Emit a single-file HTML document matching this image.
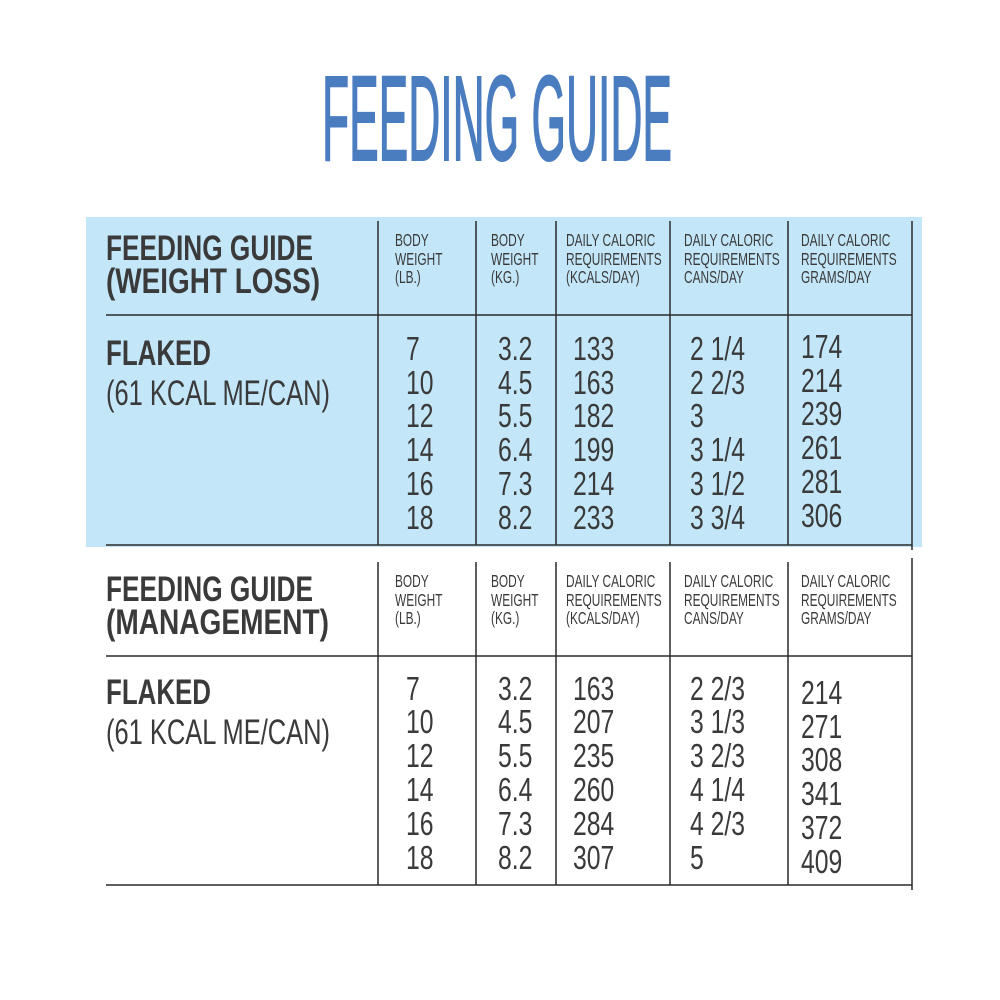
<!DOCTYPE html>
<html><head><meta charset="utf-8"><style>
html,body{margin:0;padding:0;background:#fff}
svg{display:block}
text{font-family:"Liberation Sans",sans-serif;fill:#3a3a3a}
.n{font-size:33px}
.h{font-size:18px}
.b{font-size:35px;font-weight:bold}
</style></head><body>
<svg width="1000" height="1000" viewBox="0 0 1000 1000" xmlns="http://www.w3.org/2000/svg">
<rect width="1000" height="1000" fill="#fff"/>
<text x="322" y="160" font-size="121" textLength="350" lengthAdjust="spacingAndGlyphs" style="fill:#4a7cc0;stroke:#4a7cc0;stroke-width:2">FEEDING GUIDE</text>
<rect x="86" y="217" width="836" height="330" fill="#c3e6f8"/>
<g stroke="#2a2a2a" stroke-width="1.5">
<line x1="106" y1="315" x2="912" y2="315"/>
<line x1="106" y1="545" x2="912" y2="545"/>
<line x1="378" y1="221" x2="378" y2="545"/>
<line x1="476" y1="221" x2="476" y2="545"/>
<line x1="556" y1="221" x2="556" y2="545"/>
<line x1="670" y1="221" x2="670" y2="545"/>
<line x1="788" y1="221" x2="788" y2="545"/>
<line x1="912" y1="221" x2="912" y2="550"/>
<line x1="106" y1="656" x2="912" y2="656"/>
<line x1="106" y1="885" x2="912" y2="885"/>
<line x1="378" y1="562" x2="378" y2="885"/>
<line x1="476" y1="562" x2="476" y2="885"/>
<line x1="556" y1="562" x2="556" y2="885"/>
<line x1="670" y1="562" x2="670" y2="885"/>
<line x1="788" y1="562" x2="788" y2="885"/>
<line x1="912" y1="558" x2="912" y2="890"/>
</g>
<g id="t1">
<text class="b" x="106" y="260" textLength="207" lengthAdjust="spacingAndGlyphs">FEEDING GUIDE</text>
<text class="b" x="106" y="293" textLength="214" lengthAdjust="spacingAndGlyphs">(WEIGHT LOSS)</text>
<g class="h">
<text transform="translate(395,246) scale(0.66,1)">BODY</text>
<text transform="translate(395,265) scale(0.66,1)">WEIGHT</text>
<text transform="translate(395,283) scale(0.66,1)">(LB.)</text>
<text transform="translate(491,246) scale(0.66,1)">BODY</text>
<text transform="translate(491,265) scale(0.66,1)">WEIGHT</text>
<text transform="translate(491,283) scale(0.66,1)">(KG.)</text>
<text transform="translate(566,246) scale(0.66,1)">DAILY CALORIC</text>
<text transform="translate(566,265) scale(0.66,1)">REQUIREMENTS</text>
<text transform="translate(566,283) scale(0.66,1)">(KCALS/DAY)</text>
<text transform="translate(684,246) scale(0.66,1)">DAILY CALORIC</text>
<text transform="translate(684,265) scale(0.66,1)">REQUIREMENTS</text>
<text transform="translate(684,283) scale(0.66,1)">CANS/DAY</text>
<text transform="translate(801,246) scale(0.66,1)">DAILY CALORIC</text>
<text transform="translate(801,265) scale(0.66,1)">REQUIREMENTS</text>
<text transform="translate(801,283) scale(0.66,1)">GRAMS/DAY</text>
</g>
<text class="b" x="106" y="365" textLength="105" lengthAdjust="spacingAndGlyphs">FLAKED</text>
<text x="106" y="405" font-size="35" textLength="224" lengthAdjust="spacingAndGlyphs">(61 KCAL ME/CAN)</text>
</g>
<g class="n">
<text transform="translate(406,360) scale(0.75,1)">7</text>
<text transform="translate(406,394) scale(0.75,1)">10</text>
<text transform="translate(406,427) scale(0.75,1)">12</text>
<text transform="translate(406,461) scale(0.75,1)">14</text>
<text transform="translate(406,495) scale(0.75,1)">16</text>
<text transform="translate(406,529) scale(0.75,1)">18</text>
<text transform="translate(498,360) scale(0.75,1)">3.2</text>
<text transform="translate(498,394) scale(0.75,1)">4.5</text>
<text transform="translate(498,427) scale(0.75,1)">5.5</text>
<text transform="translate(498,461) scale(0.75,1)">6.4</text>
<text transform="translate(498,495) scale(0.75,1)">7.3</text>
<text transform="translate(498,529) scale(0.75,1)">8.2</text>
<text transform="translate(573,360) scale(0.75,1)">133</text>
<text transform="translate(573,394) scale(0.75,1)">163</text>
<text transform="translate(573,427) scale(0.75,1)">182</text>
<text transform="translate(573,461) scale(0.75,1)">199</text>
<text transform="translate(573,495) scale(0.75,1)">214</text>
<text transform="translate(573,529) scale(0.75,1)">233</text>
<text transform="translate(690,360) scale(0.75,1)">2 1/4</text>
<text transform="translate(690,394) scale(0.75,1)">2 2/3</text>
<text transform="translate(690,427) scale(0.75,1)">3</text>
<text transform="translate(690,461) scale(0.75,1)">3 1/4</text>
<text transform="translate(690,495) scale(0.75,1)">3 1/2</text>
<text transform="translate(690,529) scale(0.75,1)">3 3/4</text>
<text transform="translate(801,358) scale(0.75,1)">174</text>
<text transform="translate(801,392) scale(0.75,1)">214</text>
<text transform="translate(801,425) scale(0.75,1)">239</text>
<text transform="translate(801,459) scale(0.75,1)">261</text>
<text transform="translate(801,493) scale(0.75,1)">281</text>
<text transform="translate(801,527) scale(0.75,1)">306</text>
</g>
<g transform="translate(0,341)">
<text class="b" x="106" y="260" textLength="207" lengthAdjust="spacingAndGlyphs">FEEDING GUIDE</text>
<text class="b" x="106" y="293" textLength="223" lengthAdjust="spacingAndGlyphs">(MANAGEMENT)</text>
<g class="h">
<text transform="translate(395,246) scale(0.66,1)">BODY</text>
<text transform="translate(395,265) scale(0.66,1)">WEIGHT</text>
<text transform="translate(395,283) scale(0.66,1)">(LB.)</text>
<text transform="translate(491,246) scale(0.66,1)">BODY</text>
<text transform="translate(491,265) scale(0.66,1)">WEIGHT</text>
<text transform="translate(491,283) scale(0.66,1)">(KG.)</text>
<text transform="translate(566,246) scale(0.66,1)">DAILY CALORIC</text>
<text transform="translate(566,265) scale(0.66,1)">REQUIREMENTS</text>
<text transform="translate(566,283) scale(0.66,1)">(KCALS/DAY)</text>
<text transform="translate(684,246) scale(0.66,1)">DAILY CALORIC</text>
<text transform="translate(684,265) scale(0.66,1)">REQUIREMENTS</text>
<text transform="translate(684,283) scale(0.66,1)">CANS/DAY</text>
<text transform="translate(801,246) scale(0.66,1)">DAILY CALORIC</text>
<text transform="translate(801,265) scale(0.66,1)">REQUIREMENTS</text>
<text transform="translate(801,283) scale(0.66,1)">GRAMS/DAY</text>
</g>
<text class="b" x="106" y="363" textLength="105" lengthAdjust="spacingAndGlyphs">FLAKED</text>
<text x="106" y="403" font-size="35" textLength="224" lengthAdjust="spacingAndGlyphs">(61 KCAL ME/CAN)</text>
<g class="n">
<text transform="translate(406,359) scale(0.75,1)">7</text>
<text transform="translate(406,392) scale(0.75,1)">10</text>
<text transform="translate(406,426) scale(0.75,1)">12</text>
<text transform="translate(406,460) scale(0.75,1)">14</text>
<text transform="translate(406,494) scale(0.75,1)">16</text>
<text transform="translate(406,528) scale(0.75,1)">18</text>
<text transform="translate(498,359) scale(0.75,1)">3.2</text>
<text transform="translate(498,392) scale(0.75,1)">4.5</text>
<text transform="translate(498,426) scale(0.75,1)">5.5</text>
<text transform="translate(498,460) scale(0.75,1)">6.4</text>
<text transform="translate(498,494) scale(0.75,1)">7.3</text>
<text transform="translate(498,528) scale(0.75,1)">8.2</text>
<text transform="translate(573,359) scale(0.75,1)">163</text>
<text transform="translate(573,392) scale(0.75,1)">207</text>
<text transform="translate(573,426) scale(0.75,1)">235</text>
<text transform="translate(573,460) scale(0.75,1)">260</text>
<text transform="translate(573,494) scale(0.75,1)">284</text>
<text transform="translate(573,528) scale(0.75,1)">307</text>
<text transform="translate(690,359) scale(0.75,1)">2 2/3</text>
<text transform="translate(690,392) scale(0.75,1)">3 1/3</text>
<text transform="translate(690,426) scale(0.75,1)">3 2/3</text>
<text transform="translate(690,460) scale(0.75,1)">4 1/4</text>
<text transform="translate(690,494) scale(0.75,1)">4 2/3</text>
<text transform="translate(690,528) scale(0.75,1)">5</text>
<text transform="translate(801,363) scale(0.75,1)">214</text>
<text transform="translate(801,397) scale(0.75,1)">271</text>
<text transform="translate(801,430) scale(0.75,1)">308</text>
<text transform="translate(801,464) scale(0.75,1)">341</text>
<text transform="translate(801,498) scale(0.75,1)">372</text>
<text transform="translate(801,532) scale(0.75,1)">409</text>
</g>
</g>
</svg>
</body></html>
